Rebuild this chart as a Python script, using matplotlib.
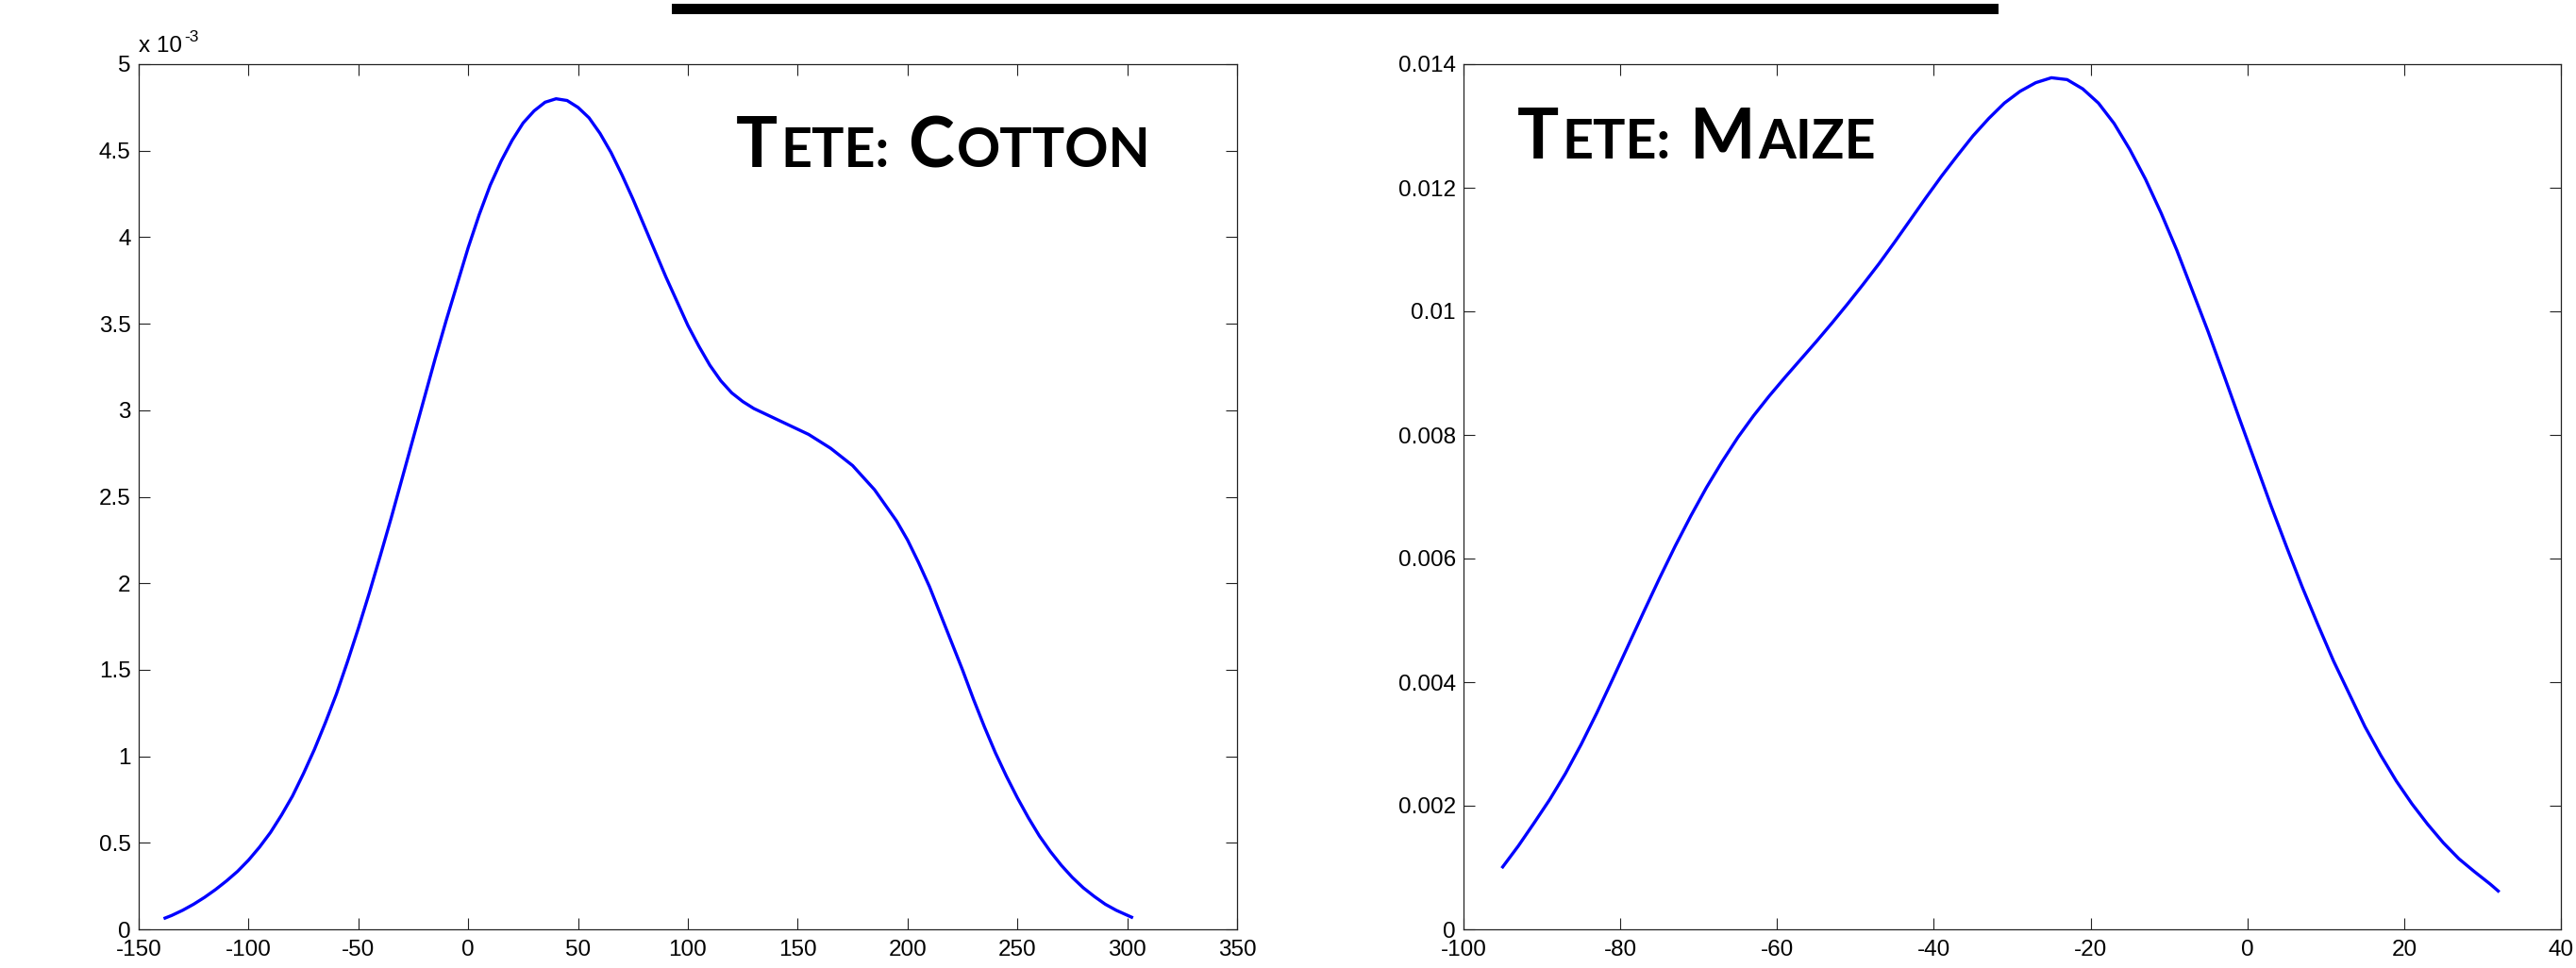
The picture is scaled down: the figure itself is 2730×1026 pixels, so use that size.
import matplotlib
matplotlib.use('Agg')
import matplotlib.pyplot as plt
from matplotlib.patches import Rectangle
from matplotlib.ticker import FuncFormatter

plt.rcParams['font.family'] = ['Liberation Sans', 'DejaVu Sans']

# Tete: Cotton density (y in units of 1e-3)
cotton_x = [-138, -135, -130, -125, -120, -115, -110, -105, -100, -95, -90, -85, -80,
            -75, -70, -65, -60, -55, -50, -45, -40, -35, -30, -25, -20, -15, -10, -5,
            0, 5, 10, 15, 20, 25, 30, 35, 40, 45, 50, 55, 60, 65, 70, 75, 80, 85, 90,
            95, 100, 105, 110, 115, 120, 125, 130, 135, 140, 145, 150, 155, 160, 165,
            170, 175, 180, 185, 190, 195, 200, 205, 210, 215, 220, 225, 230, 235, 240,
            245, 250, 255, 260, 265, 270, 275, 280, 285, 290, 295, 302]
cotton_y = [0.065, 0.08, 0.11, 0.145, 0.185, 0.23, 0.28, 0.335, 0.40, 0.475, 0.56,
            0.66, 0.77, 0.90, 1.04, 1.195, 1.36, 1.545, 1.74, 1.945, 2.16, 2.38, 2.61,
            2.84, 3.07, 3.30, 3.52, 3.73, 3.94, 4.13, 4.30, 4.44, 4.56, 4.66, 4.73,
            4.78, 4.80, 4.79, 4.75, 4.69, 4.60, 4.49, 4.36, 4.22, 4.07, 3.92, 3.77,
            3.63, 3.49, 3.37, 3.26, 3.17, 3.10, 3.05, 3.01, 2.98, 2.95, 2.92, 2.89,
            2.86, 2.82, 2.78, 2.73, 2.68, 2.61, 2.54, 2.45, 2.36, 2.25, 2.12, 1.98,
            1.82, 1.66, 1.50, 1.33, 1.17, 1.02, 0.885, 0.76, 0.645, 0.54, 0.45, 0.37,
            0.30, 0.24, 0.19, 0.145, 0.11, 0.07]

# Tete: Maize density
maize_x = [-95, -93, -91, -89, -87, -85, -83, -81, -79, -77, -75, -73, -71, -69, -67,
           -65, -63, -61, -59, -57, -55, -53, -51, -49, -47, -45, -43, -41, -39, -37,
           -35, -33, -31, -29, -27, -25, -23, -21, -19, -17, -15, -13, -11, -9, -7,
           -5, -3, -1, 1, 3, 5, 7, 9, 11, 13, 15, 17, 19, 21, 23, 25, 27, 29, 31, 32]
maize_y = [0.00101, 0.00135, 0.00172, 0.00210, 0.00252, 0.00299, 0.00350, 0.00404,
           0.00459, 0.00514, 0.00568, 0.00620, 0.00669, 0.00715, 0.00757, 0.00796,
           0.00831, 0.00863, 0.00893, 0.00922, 0.00951, 0.00981, 0.01012, 0.01044,
           0.01077, 0.01112, 0.01148, 0.01184, 0.01219, 0.01252, 0.01284, 0.01312,
           0.01337, 0.01356, 0.01370, 0.01378, 0.01375, 0.01360, 0.01337, 0.01304,
           0.01262, 0.01214, 0.01159, 0.01099, 0.01033, 0.00967, 0.00897, 0.00826,
           0.00756, 0.00686, 0.00619, 0.00554, 0.00493, 0.00434, 0.00381, 0.00328,
           0.00282, 0.00240, 0.00203, 0.00170, 0.00140, 0.00114, 0.00093, 0.00073,
           0.00062]

cotton_xticks = list(range(-150, 351, 50))
cotton_yticks = [0, 0.5, 1, 1.5, 2, 2.5, 3, 3.5, 4, 4.5, 5]
maize_xticks = list(range(-100, 41, 20))
maize_yticks = [0, 0.002, 0.004, 0.006, 0.008, 0.01, 0.012, 0.014]

W, H = 2730, 1026
fig = plt.figure(figsize=(W / 100, H / 100), dpi=100)
ax1 = fig.add_axes([147 / W, 41 / H, 1164 / W, 917 / H])
ax2 = fig.add_axes([1551 / W, 41 / H, 1163 / W, 917 / H])

ax1.plot(cotton_x, cotton_y, color='#0000ff', lw=2.4)
ax2.plot(maize_x, maize_y, color='#0000ff', lw=2.4)

ax1.set_xlim(-150, 350)
ax1.set_ylim(0, 5)
ax1.set_xticks(cotton_xticks)
ax1.set_yticks(cotton_yticks)
ax2.set_xlim(-100, 40)
ax2.set_ylim(0, 0.014)
ax2.set_xticks(maize_xticks)
ax2.set_yticks(maize_yticks)

fmt = FuncFormatter(lambda v, p: f'{v:g}')
for ax in (ax1, ax2):
    ax.xaxis.set_major_formatter(fmt)
    ax.yaxis.set_major_formatter(fmt)
    ax.tick_params(direction='in', top=True, right=True, length=8.5, width=0.8,
                   labelsize=17.5, color='#222222')
    ax.tick_params(axis='x', pad=8)
    ax.tick_params(axis='y', pad=6)
    for s in ax.spines.values():
        s.set_linewidth(0.9)
        s.set_color('#222222')

renderer = fig.canvas.get_renderer()

# "x 10^-3" exponent label, MATLAB style (plain hyphen in the exponent)
base = ax1.text(0, 1.014, 'x 10', transform=ax1.transAxes, fontsize=17.5,
                ha='left', va='baseline')
bx = base.get_window_extent(renderer).width / ax1.get_window_extent(renderer).width
ax1.text(bx + 0.002, 1.026, '-3', transform=ax1.transAxes, fontsize=12.5,
         ha='left', va='baseline')

# black bar on top
fig.add_artist(Rectangle((712 / W, 1 - 15 / H), (2118 - 712) / W, 11 / H,
                         transform=fig.transFigure, color='black', lw=0))


def small_caps(ax, x, y, pieces, size):
    axw = ax.get_window_extent(renderer).width
    for s, big, gap in pieces:
        x += gap / axw
        t = ax.text(x, y, s, transform=ax.transAxes, ha='left', va='baseline',
                    fontsize=size if big else size * 0.78, fontweight='bold',
                    family=['Lato', 'DejaVu Sans'])
        x += t.get_window_extent(renderer).width / axw


small_caps(ax1, 0.5438, 0.8811,
           [('T', True, 0), ('ETE:', False, 3), ('C', True, 20), ('OTTON', False, 3)], 53)
small_caps(ax2, 0.049, 0.891,
           [('T', True, 0), ('ETE:', False, 3), ('M', True, 20), ('AIZE', False, 3)], 53)

fig.savefig('out.png', dpi=100)
